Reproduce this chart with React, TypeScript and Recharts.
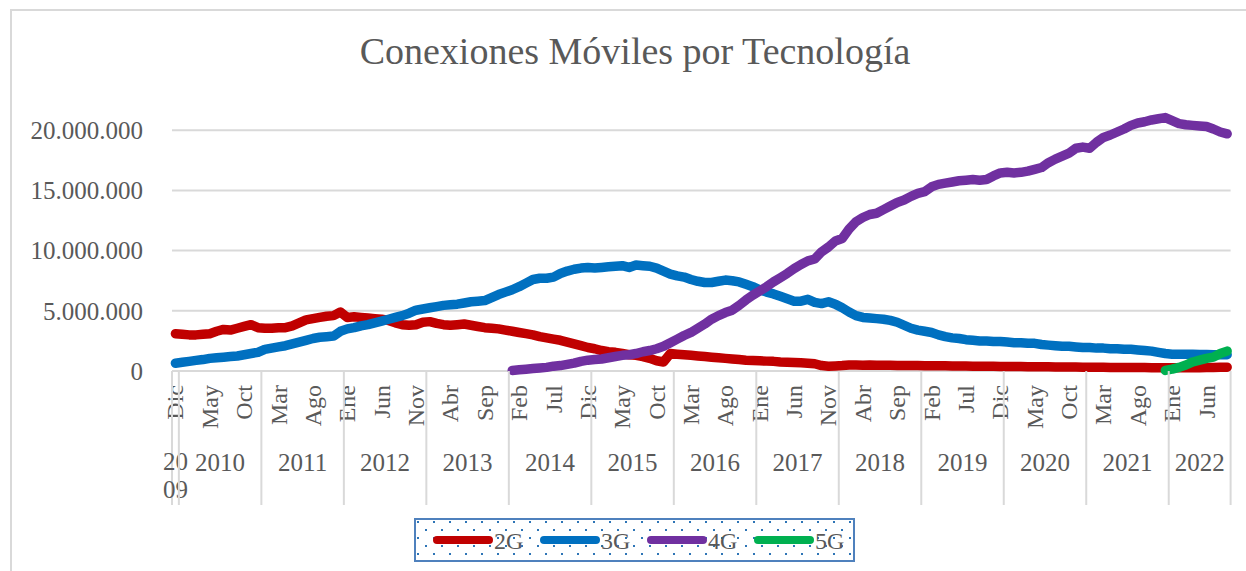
import { LineChart, Line, XAxis, YAxis, CartesianGrid, Legend } from 'recharts';

// Conexiones móviles por tecnología, mensual dic-2009 .. sep-2022 (millones)
const monthNames = ['Ene', 'Feb', 'Mar', 'Abr', 'May', 'Jun', 'Jul', 'Ago', 'Sep', 'Oct', 'Nov', 'Dic'];
const years = [2009, 2010, 2011, 2012, 2013, 2014, 2015, 2016, 2017, 2018, 2019, 2020, 2021, 2022];
const firstMonth = 11; // Dic 2009
const lastMonth = 8; // Sep 2022

const yTicks = [0, 5, 10, 15, 20];

const g2 = [
  3.10,
  3.05, 3.00, 3.00, 3.05, 3.10, 3.30, 3.45, 3.40, 3.55, 3.70, 3.85, 3.60,
  3.55, 3.55, 3.60, 3.60, 3.75, 4.00, 4.25, 4.35, 4.45, 4.55, 4.60, 4.90,
  4.45, 4.50, 4.45, 4.40, 4.35, 4.30, 4.20, 4.00, 3.85, 3.80, 3.85, 4.05,
  4.10, 3.95, 3.85, 3.80, 3.85, 3.90, 3.80, 3.70, 3.60, 3.55, 3.50, 3.40,
  3.30, 3.20, 3.10, 3.00, 2.85, 2.75, 2.65, 2.55, 2.40, 2.25, 2.10, 1.95,
  1.85, 1.70, 1.60, 1.55, 1.45, 1.35, 1.30, 1.20, 1.05, 0.85, 0.75, 1.45,
  1.40, 1.35, 1.30, 1.25, 1.20, 1.15, 1.10, 1.05, 1.00, 0.95, 0.90, 0.88,
  0.85, 0.82, 0.80, 0.75, 0.72, 0.70, 0.68, 0.65, 0.60, 0.45, 0.40, 0.42,
  0.45, 0.50, 0.50, 0.48, 0.50, 0.48, 0.48, 0.47, 0.46, 0.46, 0.45, 0.45,
  0.44, 0.44, 0.43, 0.43, 0.42, 0.42, 0.41, 0.40, 0.40, 0.39, 0.39, 0.38,
  0.38, 0.37, 0.37, 0.36, 0.36, 0.35, 0.35, 0.34, 0.34, 0.33, 0.33, 0.32,
  0.32, 0.31, 0.31, 0.30, 0.30, 0.30, 0.29, 0.29, 0.29, 0.28, 0.28, 0.28,
  0.27, 0.27, 0.27, 0.27, 0.28, 0.29, 0.30, 0.31, 0.32,
];

const g3 = [
  0.65,
  0.72, 0.80, 0.88, 0.95, 1.05, 1.10, 1.15, 1.20, 1.25, 1.35, 1.45, 1.55,
  1.80, 1.90, 2.00, 2.10, 2.25, 2.40, 2.55, 2.70, 2.80, 2.85, 2.90, 3.30,
  3.50, 3.60, 3.75, 3.85, 4.00, 4.15, 4.30, 4.45, 4.60, 4.80, 5.05, 5.15,
  5.25, 5.35, 5.45, 5.50, 5.55, 5.65, 5.75, 5.80, 5.85, 6.10, 6.35, 6.55,
  6.75, 7.00, 7.30, 7.60, 7.70, 7.70, 7.80, 8.10, 8.30, 8.45, 8.55, 8.60,
  8.55, 8.60, 8.65, 8.70, 8.75, 8.60, 8.80, 8.75, 8.70, 8.55, 8.30, 8.05,
  7.90, 7.80, 7.60, 7.45, 7.35, 7.35, 7.45, 7.55, 7.50, 7.40, 7.20, 7.00,
  6.75, 6.55, 6.40, 6.20, 6.00, 5.80, 5.80, 5.95, 5.70, 5.60, 5.75, 5.55,
  5.25, 4.90, 4.60, 4.45, 4.40, 4.35, 4.30, 4.20, 4.05, 3.80, 3.55, 3.40,
  3.30, 3.20, 3.00, 2.85, 2.75, 2.70, 2.60, 2.55, 2.50, 2.50, 2.45, 2.45,
  2.40, 2.35, 2.35, 2.30, 2.30, 2.20, 2.15, 2.10, 2.05, 2.05, 2.00, 1.95,
  1.95, 1.90, 1.90, 1.85, 1.85, 1.80, 1.80, 1.75, 1.70, 1.65, 1.55, 1.45,
  1.40, 1.40, 1.40, 1.40, 1.38, 1.38, 1.35, 1.35, 1.35,
];

// 4G desde ene-2014
const g4Start = 49;
const g4 = [
  0.05, 0.10, 0.15, 0.20, 0.25, 0.30, 0.40, 0.45, 0.55, 0.65, 0.80, 0.90,
  0.95, 1.00, 1.10, 1.20, 1.30, 1.35, 1.45, 1.60, 1.70, 1.85, 2.05, 2.35,
  2.65, 2.95, 3.20, 3.55, 3.90, 4.30, 4.60, 4.85, 5.05, 5.45, 5.90, 6.30,
  6.65, 7.00, 7.40, 7.75, 8.10, 8.50, 8.85, 9.15, 9.30, 9.90, 10.30, 10.80,
  11.00, 11.80, 12.40, 12.75, 13.00, 13.10, 13.40, 13.70, 14.00, 14.20, 14.50, 14.75,
  14.90, 15.30, 15.50, 15.60, 15.70, 15.80, 15.85, 15.90, 15.85, 15.90, 16.20, 16.45,
  16.50, 16.45, 16.50, 16.60, 16.75, 16.90, 17.30, 17.60, 17.85, 18.10, 18.50, 18.60,
  18.50, 19.00, 19.40, 19.60, 19.85, 20.10, 20.40, 20.60, 20.70, 20.85, 20.95, 21.05,
  20.80, 20.55, 20.45, 20.40, 20.35, 20.30, 20.10, 19.85, 19.70,
];

// 5G desde dic-2021
const g5Start = 144;
const g5 = [0.05, 0.15, 0.30, 0.50, 0.75, 0.90, 1.05, 1.15, 1.45, 1.65];

const series = [
  { key: 'g2', name: '2G', color: '#C00000' },
  { key: 'g3', name: '3G', color: '#0070C0' },
  { key: 'g4', name: '4G', color: '#7030A0' },
  { key: 'g5', name: '5G', color: '#00B050' },
];

const periods: { year: number; month: number }[] = [];
years.forEach((y, k) => {
  const from = k === 0 ? firstMonth : 0;
  const to = k === years.length - 1 ? lastMonth : 11;
  for (let m = from; m <= to; m++) periods.push({ year: y, month: m });
});

const data = periods.map((p, i) => ({
  idx: i,
  g2: g2[i],
  g3: g3[i],
  g4: i >= g4Start ? g4[i - g4Start] : null,
  g5: i >= g5Start ? g5[i - g5Start] : null,
}));

// layout
const W = 1246;
const H = 571;
const PLOT_L = 172;
const PLOT_R = 1230.6;
const PLOT_T = 70;
const PLOT_B = 371;
const MW = (PLOT_R - PLOT_L) / periods.length;
const FONT = '"Liberation Serif", "DejaVu Serif", serif';
const TEXT = '#595959';
const GRID = '#D9D9D9';

function MonthTick(props: any) {
  const { x, payload } = props;
  const i = payload.value as number;
  const p = periods[i];
  if (!p) return null;
  const parts: any[] = [];
  if (i % 5 === 0) {
    parts.push(
      <text key="m" transform={`translate(${x},385) rotate(-90)`} textAnchor="end" dominantBaseline="central"
        fontSize={24} fill={TEXT} fontFamily={FONT}>{monthNames[p.month]}</text>
    );
  }
  const first = i === 0 || p.month === 0;
  if (first) {
    parts.push(<line key="s" x1={x - MW / 2} x2={x - MW / 2} y1={PLOT_B} y2={505} stroke={GRID} strokeWidth={2} />);
    const n = periods.filter((q) => q.year === p.year).length;
    const cx = x + ((n - 1) / 2) * MW;
    const label = String(p.year);
    if (n < 3) {
      parts.push(
        <text key="y" x={cx} textAnchor="middle" fontSize={25} fill={TEXT} fontFamily={FONT}>
          <tspan x={cx} y={470}>{label.slice(0, 2)}</tspan>
          <tspan x={cx} y={498}>{label.slice(2)}</tspan>
        </text>
      );
    } else {
      parts.push(
        <text key="y" x={cx} y={462} textAnchor="middle" dominantBaseline="central" fontSize={25} fill={TEXT} fontFamily={FONT}>{label}</text>
      );
    }
  }
  if (i === periods.length - 1) {
    parts.push(<line key="e" x1={x + MW / 2} x2={x + MW / 2} y1={PLOT_B} y2={505} stroke={GRID} strokeWidth={2} />);
  }
  return <g>{parts}</g>;
}

function LegendBox(props: any) {
  const payload = props.payload || [];
  return (
    <svg width={441} height={44} style={{ display: 'block' }}>
      <defs>
        <pattern id="legendDots" width={16} height={16} patternUnits="userSpaceOnUse">
          <rect x={3} y={3} width={2} height={2} fill="#2E75B6" />
          <rect x={11} y={11} width={2} height={2} fill="#2E75B6" />
        </pattern>
      </defs>
      <rect x={1} y={1} width={439} height={42} fill="url(#legendDots)" stroke="#4F81BD" strokeWidth={2} />
      {payload.map((e: any, k: number) => (
        <g key={e.value}>
          <line x1={23 + k * 107} x2={75 + k * 107} y1={22} y2={22} stroke={e.color} strokeWidth={8} strokeLinecap="round" />
          <text x={80 + k * 107} y={23} dominantBaseline="central" fontSize={24} fill={TEXT} fontFamily={FONT}>{e.value}</text>
        </g>
      ))}
    </svg>
  );
}

export default function App() {
  return (
    <div style={{ position: 'absolute', left: 0, top: 0, width: W, height: H, overflow: 'hidden', background: '#fff', fontFamily: FONT }}>
      <div style={{ position: 'absolute', left: 10, top: 9, width: 1300, height: 700, border: `2px solid ${GRID}`, boxSizing: 'border-box' }} />
      <div style={{ position: 'absolute', left: 0, top: 32, width: 1270, textAlign: 'center', fontSize: 38, lineHeight: '38px', color: TEXT }}>
        Conexiones Móviles por Tecnología
      </div>
      <div style={{ position: 'absolute', left: 0, top: 0 }}>
        <LineChart width={W} height={H} data={data} margin={{ top: PLOT_T, right: W - PLOT_R, bottom: 0, left: 0 }}>
          <CartesianGrid vertical={false} horizontalValues={yTicks} stroke={GRID} strokeWidth={2} />
          <XAxis
            dataKey="idx"
            type="number"
            domain={[-0.5, periods.length - 0.5]}
            ticks={periods.map((_, i) => i)}
            interval={0}
            tickLine={false}
            axisLine={false}
            height={H - PLOT_B}
            tick={(p: any) => <MonthTick {...p} />}
          />
          <YAxis
            type="number"
            domain={[0, 25]}
            ticks={yTicks}
            width={PLOT_L}
            tickLine={false}
            axisLine={false}
            tickSize={0}
            tickMargin={29}
            tickFormatter={(v: number) => (v === 0 ? '0' : `${v}.000.000`)}
            tick={{ fill: TEXT, fontSize: 25, fontFamily: FONT }}
          />
          <Legend
            layout="horizontal"
            verticalAlign="middle"
            align="center"
            content={(p: any) => <LegendBox {...p} />}
            wrapperStyle={{ left: 414, top: 518, width: 441, height: 44 }}
          />
          {series.map((s) => (
            <Line
              key={s.key}
              type="linear"
              dataKey={s.key}
              name={s.name}
              stroke={s.color}
              strokeWidth={9.5}
              strokeLinecap="round"
              strokeLinejoin="round"
              dot={false}
              activeDot={false}
              isAnimationActive={false}
            />
          ))}
        </LineChart>
      </div>
    </div>
  );
}
